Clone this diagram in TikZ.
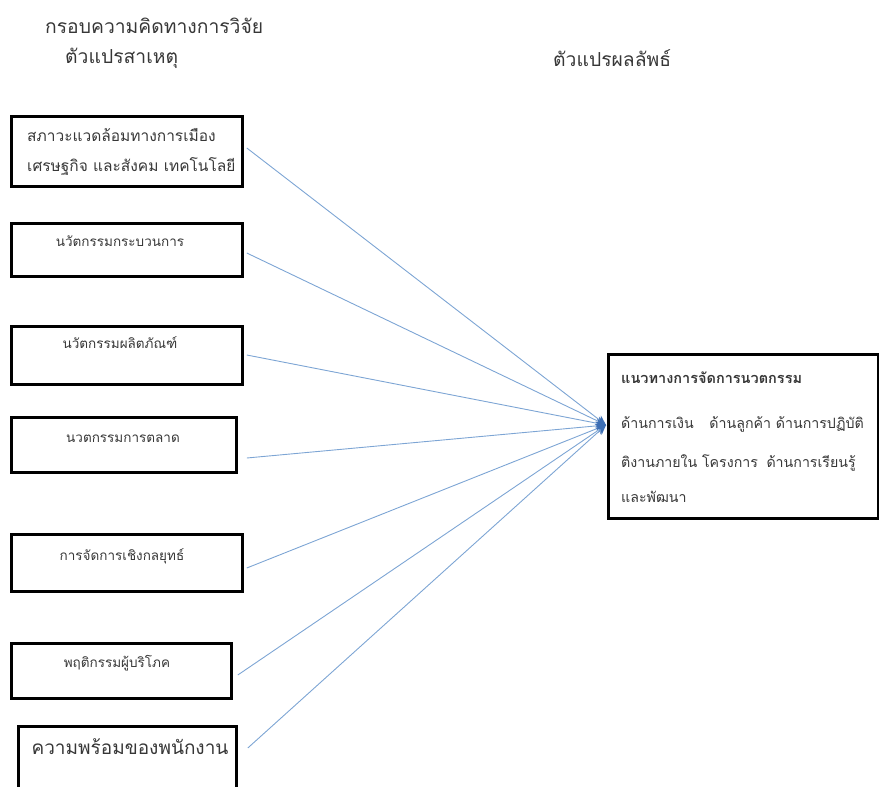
\documentclass[tikz,border=0pt]{standalone}
\usepackage{fontspec}
\newfontfamily\thaifont[Script=Thai]{Loma}
\usetikzlibrary{arrows.meta}
\definecolor{linkblue}{RGB}{125,165,212}
\definecolor{tipblue}{RGB}{60,110,180}
\definecolor{txtgray}{RGB}{55,55,55}
\tikzset{
  box/.style={draw=black, line width=2.8pt, rectangle, anchor=north west, inner sep=0pt},
  lbl/.style={font=\thaifont\fontsize{13.5}{16}\selectfont, text=txtgray, inner sep=0pt},
  biglbl/.style={lbl, anchor=west, font=\thaifont\fontsize{15.5}{18}\selectfont},
  rlbl/.style={lbl, anchor=west, font=\thaifont\fontsize{14.2}{17}\selectfont},
  head/.style={font=\thaifont\fontsize{19.3}{22}\selectfont, text=txtgray, inner sep=0pt, anchor=west},
  link/.style={draw=linkblue, line width=0.9pt, -{Stealth[length=10pt,width=9pt,color=tipblue]}},
}
\begin{document}
\begin{tikzpicture}[x=1pt,y=-1pt]
\useasboundingbox (0,0) rectangle (879,787);
% headings
\node[head] (title) at (45,26) {กรอบความคิดทางการวิจัย};
\node[head] (cause) at (65,58) {ตัวแปรสาเหตุ};
\node[head] (effect) at (553,58) {ตัวแปรผลลัพธ์};
% boxes
\node[box, minimum width=231pt, minimum height=70pt] (b1) at (10,115) {};
\node[biglbl] at (27,135) {สภาวะแวดล้อมทางการเมือง};
\node[biglbl] at (27,167) {เศรษฐกิจ และสังคม เทคโนโลยี};
\node[box, minimum width=231pt, minimum height=53pt] (b2) at (10,222) {};
\node[lbl] at (120,241) {นวัตกรรมกระบวนการ};
\node[box, minimum width=231pt, minimum height=58pt] (b3) at (10,325) {};
\node[lbl] at (120,343) {นวัตกรรมผลิตภัณฑ์};
\node[box, minimum width=225pt, minimum height=55pt] (b4) at (10,416) {};
\node[lbl] at (123,439) {นวตกรรมการตลาด};
\node[box, minimum width=231pt, minimum height=57pt] (b5) at (10,533) {};
\node[lbl] at (122,556) {การจัดการเชิงกลยุทธ์};
\node[box, minimum width=220pt, minimum height=55pt] (b6) at (10,642) {};
\node[lbl] at (117,663) {พฤติกรรมผู้บริโภค};
\node[box, minimum width=218pt, minimum height=64pt] (b7) at (17,725) {};
\node[lbl, font=\thaifont\fontsize{19}{22}\selectfont] at (130,747) {ความพร้อมของพนักงาน};
% target
\node[box, minimum width=270pt, minimum height=164pt] (t) at (607,353) {};
\node[rlbl, font=\thaifont\bfseries\fontsize{14.5}{17}\selectfont] at (621,378) {แนวทางการจัดการนวตกรรม};
\node[rlbl] at (621,424) {ด้านการเงิน\hspace{1.1em}ด้านลูกค้า ด้านการปฏิบัติ};
\node[rlbl] at (621,463) {ติงานภายใน โครงการ\hspace{0.6em}ด้านการเรียนรู้};
\node[rlbl] at (621,497) {และพัฒนา};
\coordinate (hub) at (606,425);
% connectors
\draw[link] ([xshift=3pt,yshift=-33pt]b1.north east) -- (hub);
\draw[link] ([xshift=3pt,yshift=-31pt]b2.north east) -- (hub);
\draw[link] ([xshift=3pt,yshift=-30pt]b3.north east) -- (hub);
\draw[link] ([xshift=9pt,yshift=-42pt]b4.north east) -- (hub);
\draw[link] ([xshift=3pt,yshift=-35pt]b5.north east) -- (hub);
\draw[link] ([xshift=5pt,yshift=-33pt]b6.north east) -- (hub);
\draw[link] ([xshift=10pt,yshift=-23pt]b7.north east) -- (hub);
\end{tikzpicture}
\end{document}
